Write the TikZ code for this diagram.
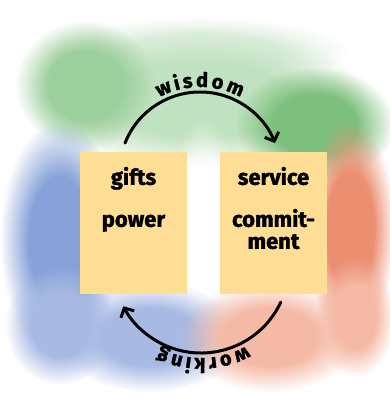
\documentclass[tikz,border=0pt]{standalone}
\usepackage{fontspec}
\setmainfont{Fira Sans}[BoldFeatures={FakeBold=1.5}]
\usetikzlibrary{arrows.meta,decorations.text,fadings}

\definecolor{cardfill}{RGB}{253,222,148}
\definecolor{mist}{RGB}{222,239,222}
\definecolor{paleleaf}{RGB}{192,226,192}
\definecolor{leaf}{RGB}{125,192,125}
\definecolor{moss}{RGB}{155,207,155}
\definecolor{sky}{RGB}{135,162,216}
\definecolor{paleSky}{RGB}{168,186,228}
\definecolor{coral}{RGB}{236,142,112}
\definecolor{paleCoral}{RGB}{245,186,165}

% opaque plateau in the middle, soft edge outside
\pgfdeclareradialshading{softdiscshade}{\pgfpoint{0bp}{0bp}}{color(0bp)=(white); color(13bp)=(white);
	color(25bp)=(black); color(50bp)=(black)}
\pgfdeclarefading{blob}{\pgfuseshading{softdiscshade}}

\newcommand{\cardfont}{\fontsize{22}{24}\selectfont\bfseries}
\newcommand{\loopfont}{\fontsize{20}{22}\selectfont\bfseries}

\begin{document}
\begin{tikzpicture}[x=1pt, y=1pt, line cap=round, line join=round,
		card/.style={fill=cardfill, minimum width=107pt, minimum height=142pt, inner sep=0pt},
		word/.style={font=\cardfont, anchor=base, inner sep=0pt},
		loop/.style={line width=3pt, -{Straight Barb[length=7pt,width=15pt]}},
		looptext/.style={decorate, decoration={text effects along path, text={#1}, text align=center,
			raise=5pt, text effects/.cd, characters={text along path, font=\loopfont, inner ysep=0pt,
			inner xsep=1pt}}}]
	\useasboundingbox (0,0) rectangle (389,417);
	\fill[white] (0,0) rectangle (389,417);
	
	% soft coloured swirl behind the cards
	\foreach \cx/\cy/\rx/\ry/\col in {200/365/150/35/mist, 200/317/170/70/paleleaf, 85/332/70/65/moss,
		315/292/80/58/leaf, 60/177/60/120/sky, 60/92/55/60/paleSky, 150/80/95/55/paleSky,
		350/187/45/110/coral, 355/100/40/60/paleCoral, 270/80/90/55/paleCoral}
	{ \fill[\col, path fading=blob] (\cx,\cy) ellipse ({\rx} and {\ry}); }
	\fill[white, opacity=0.7, path fading=blob] (203,205) ellipse (35 and 95);
	
	\node[card] (gifts) at (133.5,194) {};
	\node[card] (service) at (273.5,194) {};
	
	\node[word] (giftsW) at ([yshift=-33pt]gifts.north) {gifts};
	\node[word] (powerW) at ([yshift=-75pt]gifts.north) {power};
	\node[word] (serviceW) at ([yshift=-33pt]service.north) {service};
	\node[word] (commitW) at ([yshift=-75pt]service.north) {commit-};
	\node[word] (mentW) at ([yshift=-97pt]service.north) {ment};
	
	\coordinate (top) at (200,244.4);
	\coordinate (bottom) at (201,152);
	
	\draw[loop, postaction={looptext=wisdom}]
		([shift={(158.5:80.6)}]top) arc[start angle=158.5, end angle=21.5, radius=80.6];
	\draw[loop, postaction={looptext=working}]
		([shift={(-25:88)}]bottom) arc[start angle=-25, end angle=-152, radius=88];
\end{tikzpicture}
\end{document}
